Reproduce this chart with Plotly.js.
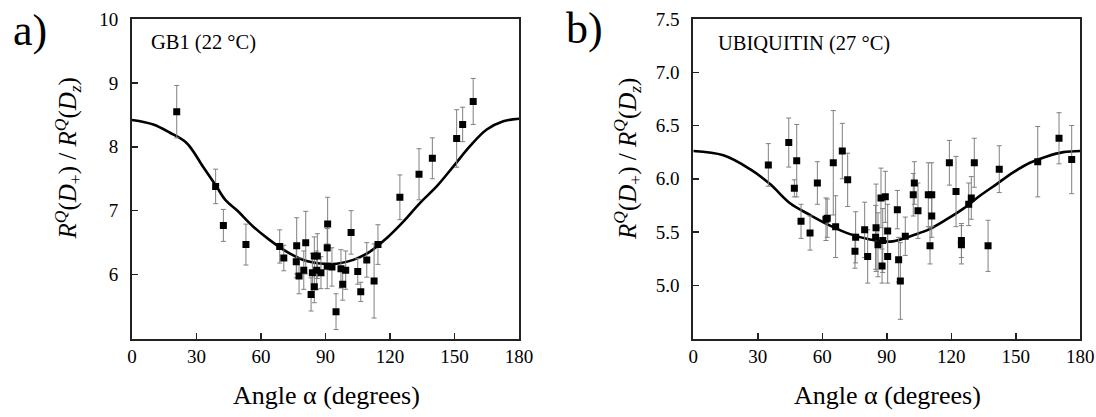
<!DOCTYPE html>
<html>
<head>
<meta charset="utf-8">
<script src="https://cdn.plot.ly/plotly-3.0.1.min.js"></script>
<style>html,body{margin:0;padding:0;background:#fff}#chart{width:1096px;height:417px}</style>
</head>
<body>
<div id="chart"></div>
<script>
// Panel a) GB1 (22 °C)
const gb1Angle = [20.8,38.9,42.5,53.0,68.7,70.6,76.6,76.4,77.7,79.9,80.8,83.3,83.9,84.8,84.8,86.2,85.9,87.9,91.0,90.8,90.8,93.0,94.9,97.2,98.0,99.4,101.9,105.0,106.4,109.2,112.6,114.4,124.6,133.5,139.7,151.0,153.8,158.7];
const gb1Ratio = [8.55,7.38,6.77,6.47,6.44,6.26,6.45,6.20,5.98,6.07,6.50,5.69,6.03,5.81,6.29,6.29,6.07,6.03,6.79,6.42,6.13,6.12,5.42,6.09,5.85,6.07,6.66,6.05,5.73,6.23,5.90,6.47,7.21,7.57,7.82,8.13,8.35,8.71];
const gb1Err   = [0.41,0.27,0.25,0.32,0.26,0.20,0.44,0.25,0.28,0.30,0.49,0.26,0.30,0.25,0.30,0.35,0.30,0.25,0.42,0.30,0.35,0.30,0.28,0.30,0.25,0.30,0.34,0.20,0.15,0.27,0.58,0.31,0.35,0.40,0.32,0.45,0.27,0.36];
const gb1FitAngle = [0,9.9,17.7,25.4,33.2,38.9,43.4,48.7,56.4,64.1,71.9,79.7,89.0,95.2,102.9,110.7,118.4,126.2,133.9,141.7,149.4,157.2,165.0,172.7,180];
const gb1FitRatio = [8.42,8.35,8.22,8.06,7.68,7.40,7.17,7.01,6.75,6.54,6.36,6.23,6.17,6.17,6.23,6.36,6.57,6.83,7.12,7.38,7.69,8.01,8.27,8.40,8.44];

// Panel b) UBIQUITIN (27 °C)
const ubqAngle = [34.9,44.4,48.1,47.0,50.1,54.3,57.7,61.7,62.3,65.1,66.2,69.3,71.8,75.5,75.2,79.7,81.1,85.0,84.8,85.9,87.3,89.3,87.8,88.1,90.4,90.4,94.9,95.5,96.3,98.6,102.8,102.3,104.5,109.3,110.9,110.9,110.1,119.1,122.2,124.7,124.7,128.1,129.3,130.7,137.1,142.3,160.2,170.1,176.0];
const ubqRatio = [6.13,6.34,6.17,5.91,5.60,5.49,5.96,5.62,5.63,6.15,5.55,6.26,5.99,5.45,5.32,5.52,5.27,5.54,5.45,5.38,5.82,5.83,5.18,5.42,5.51,5.27,5.71,5.24,5.04,5.46,5.96,5.85,5.70,5.85,5.85,5.65,5.37,6.15,5.88,5.42,5.38,5.76,5.82,6.15,5.37,6.09,6.16,6.38,6.18];
const ubqErr   = [0.20,0.23,0.34,0.08,0.16,0.16,0.20,0.20,0.18,0.49,0.29,0.26,0.25,0.24,0.16,0.26,0.25,0.41,0.30,0.30,0.28,0.24,0.16,0.30,0.25,0.25,0.18,0.21,0.36,0.18,0.20,0.20,0.26,0.30,0.30,0.20,0.17,0.21,0.33,0.16,0.18,0.20,0.20,0.23,0.24,0.22,0.33,0.24,0.32];
const ubqFitAngle = [0,14.0,26.4,35.7,45.0,54.3,63.6,72.9,82.2,91.5,94.6,102.3,110.1,117.9,125.6,133.3,141.1,148.8,156.6,164.4,172.1,180];
const ubqFitRatio = [6.26,6.22,6.09,5.95,5.77,5.66,5.56,5.48,5.43,5.41,5.42,5.47,5.53,5.62,5.72,5.84,5.95,6.06,6.15,6.21,6.25,6.26];

const xTicks = [0,30,60,90,120,150,180];
const gb1YTicks = [6,7,8,9,10];
const ubqYTicks = [5.0,5.5,6.0,6.5,7.0,7.5];

const SERIF = '"Liberation Serif", "Times New Roman", serif';
const W = 1096, H = 417;

function pts(x, y, e, xa, ya) {
  return {
    type: 'scatter', mode: 'markers', x: x, y: y, xaxis: xa, yaxis: ya,
    marker: {symbol: 'square', size: 7, color: '#000'},
    error_y: {type: 'data', array: e, visible: true, color: '#808080', thickness: 1, width: 2.5},
    showlegend: false, hoverinfo: 'skip'
  };
}
function fit(x, y, xa, ya) {
  return {
    type: 'scatter', mode: 'lines', x: x, y: y, xaxis: xa, yaxis: ya,
    line: {color: '#000', width: 2.6, shape: 'spline', smoothing: 1},
    showlegend: false, hoverinfo: 'skip'
  };
}

const data = [
  fit(gb1FitAngle, gb1FitRatio, 'x', 'y'),
  pts(gb1Angle, gb1Ratio, gb1Err, 'x', 'y'),
  fit(ubqFitAngle, ubqFitRatio, 'x2', 'y2'),
  pts(ubqAngle, ubqRatio, ubqErr, 'x2', 'y2')
];

const yDom = [(H - 338.5) / H, (H - 19) / H];
function xaxis(domain, anchor) {
  return {
    domain: domain, anchor: anchor, range: [0, 180], tickvals: xTicks,
    ticks: 'inside', ticklen: 6, tickwidth: 1.5, tickcolor: '#222',
    showline: true, linecolor: '#222', linewidth: 2, mirror: true,
    showgrid: false, zeroline: false, ticklabelstandoff: 0,
    tickfont: {family: SERIF, size: 19, color: '#000'}
  };
}
function yaxis(range, tv, fmt, anchor) {
  return {
    domain: yDom, anchor: anchor, range: range, tickvals: tv, tickformat: fmt,
    ticks: 'inside', ticklen: 6, tickwidth: 1.5, tickcolor: '#222',
    showline: true, linecolor: '#222', linewidth: 2, mirror: true,
    showgrid: false, zeroline: false, ticklabelstandoff: 8,
    tickfont: {family: SERIF, size: 19, color: '#000'}
  };
}

const yTitle = '<i>R<sup>Q</sup></i>(<i>D</i><sub>+</sub>) / <i>R<sup>Q</sup></i>(<i>D<sub>z</sub></i>)';
function ann(text, px, py, size, extra) {
  return Object.assign({
    text: text, x: px / W, y: 1 - py / H, xref: 'paper', yref: 'paper',
    xanchor: 'center', yanchor: 'middle',
    showarrow: false, font: {family: SERIF, size: size, color: '#000'}
  }, extra || {});
}

const layout = {
  width: W, height: H,
  margin: {l: 0, r: 0, t: 0, b: 0},
  paper_bgcolor: '#fff', plot_bgcolor: '#fff',
  font: {family: SERIF},
  xaxis: xaxis([132 / W, 519 / W], 'y'),
  yaxis: yaxis([5, 10], gb1YTicks, '', 'x'),
  xaxis2: xaxis([693.3 / W, 1080.3 / W], 'y2'),
  yaxis2: yaxis([4.5, 7.5], ubqYTicks, '.1f', 'x2'),
  annotations: [
    ann('a)', 30, 30, 44),
    ann('b)', 585, 28, 44),
    ann('GB1 (22 °C)', 149, 42, 20.5, {xanchor: 'left'}),
    ann('UBIQUITIN (27 °C)', 716, 43, 20.5, {xanchor: 'left'}),
    ann('Angle α (degrees)', 326.5, 395, 26),
    ann('Angle α (degrees)', 887.8, 395, 26),
    ann(yTitle, 67, 158.5, 25, {textangle: -90}),
    ann(yTitle, 627, 159, 25, {textangle: -90})
  ]
};

Plotly.newPlot('chart', data, layout, {displayModeBar: false, staticPlot: true});
</script>
</body>
</html>
